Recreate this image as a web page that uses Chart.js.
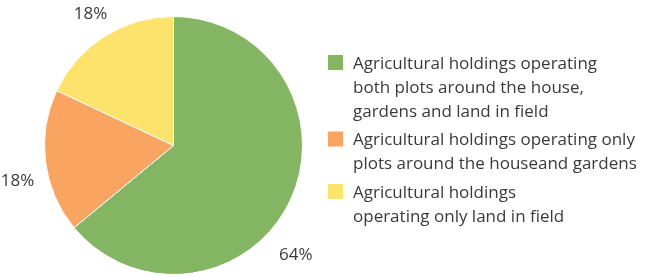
<!DOCTYPE html>
<html>
<head>
<meta charset="utf-8">
<script src="https://cdn.jsdelivr.net/npm/chart.js@4"></script>
<style>
  html, body { margin: 0; padding: 0; background: #fff; }
  #wrap { width: 650px; height: 277px; position: relative; }
</style>
</head>
<body>
<div id="wrap"><canvas id="pieChart" width="650" height="277"></canvas></div>
<script>
// data
const categories = [
  ["Agricultural holdings operating", "both plots around the house,", "gardens and land in field"],
  ["Agricultural holdings operating only", "plots around the houseand gardens"],
  ["Agricultural holdings", "operating only land in field"],
];
const shares = [64, 18, 18];
const sliceColors = ["#84b563", "#f9a460", "#fce36b"];

const FONT = "'Open Sans', 'Noto Sans', sans-serif";
const TEXT = "#3a3a3a";

// percentage labels outside each slice
const outsideLabels = {
  id: "outsideLabels",
  afterDatasetsDraw(chart, args, opts) {
    const { ctx } = chart;
    const meta = chart.getDatasetMeta(0);
    ctx.save();
    ctx.font = "17px " + FONT;
    ctx.fillStyle = TEXT;
    ctx.textAlign = "center";
    ctx.textBaseline = "middle";
    meta.data.forEach((arc, i) => {
      const p = arc.getProps(["x", "y", "startAngle", "endAngle", "outerRadius"], true);
      const mid = (p.startAngle + p.endAngle) / 2 + (opts.angleShift[i] || 0);
      const r = p.outerRadius + opts.offset[i];
      ctx.fillText(shares[i] + "%", p.x + Math.cos(mid) * r, p.y + Math.sin(mid) * r);
    });
    ctx.restore();
  },
};

// legend on the right, wrapped text
const sideLegend = {
  id: "sideLegend",
  afterDraw(chart, args, opts) {
    const { ctx } = chart;
    ctx.save();
    ctx.font = "17px " + FONT;
    ctx.textBaseline = "middle";
    let y = opts.top;
    categories.forEach((lines, i) => {
      ctx.fillStyle = sliceColors[i];
      ctx.fillRect(opts.left, y - 9, 15, 15);
      ctx.fillStyle = TEXT;
      lines.forEach((line, j) => {
        ctx.fillText(line, opts.left + 25, y + j * opts.lineHeight);
      });
      y += lines.length * opts.lineHeight + opts.gap;
    });
    ctx.restore();
  },
};

new Chart(document.getElementById("pieChart"), {
  type: "pie",
  data: {
    labels: categories.map((l) => l.join(" ")),
    datasets: [
      {
        data: shares,
        backgroundColor: sliceColors,
        borderColor: "#ffffff",
        borderWidth: 1,
      },
    ],
  },
  options: {
    responsive: false,
    animation: false,
    layout: { padding: { left: 44, right: 347, top: 16, bottom: 2 } },
    plugins: {
      legend: { display: false },
      tooltip: { enabled: false },
      outsideLabels: { offset: [35, 31, 26], angleShift: [0.29, -0.1, 0] },
      sideLegend: { left: 328, top: 64, lineHeight: 24, gap: 4.5 },
    },
  },
  plugins: [outsideLabels, sideLegend],
});
</script>
</body>
</html>
